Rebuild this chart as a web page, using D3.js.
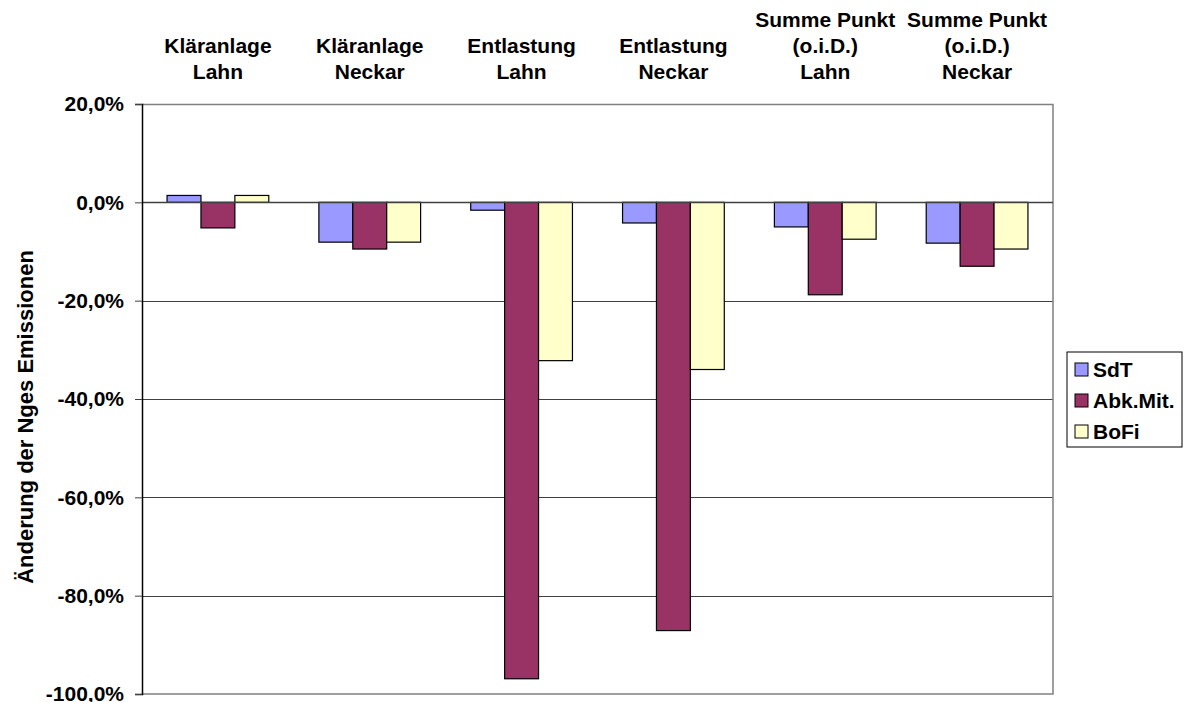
<!DOCTYPE html>
<html>
<head>
<meta charset="utf-8">
<script src="https://cdn.jsdelivr.net/npm/d3@7"></script>
<style>
  body { margin: 0; background: #fff; }
  text { font-family: "Liberation Sans", Arial, sans-serif; font-weight: bold; }
</style>
</head>
<body>
<div id="chart"></div>
<script>
// categories (multi-line labels) and series
const categories = [
  ["Kläranlage", "Lahn"],
  ["Kläranlage", "Neckar"],
  ["Entlastung", "Lahn"],
  ["Entlastung", "Neckar"],
  ["Summe Punkt", "(o.i.D.)", "Lahn"],
  ["Summe Punkt", "(o.i.D.)", "Neckar"]
];
const seriesNames = ["SdT", "Abk.Mit.", "BoFi"];
const seriesColors = ["#9999FF", "#993366", "#FFFFCC"];
const sdtValues = [1.4, -8.1, -1.6, -4.2, -5.0, -8.3];
const abkValues = [-5.2, -9.5, -96.9, -87.1, -18.8, -13.0];
const bofiValues = [1.4, -8.1, -32.2, -34.0, -7.5, -9.5];
const yTicks = [20, 0, -20, -40, -60, -80, -100];

const values = [sdtValues, abkValues, bofiValues];
const data = categories.map((c, i) => ({
  key: i,
  label: c,
  vals: seriesNames.map((s, j) => ({ series: s, idx: j, value: values[j][i] }))
}));

const width = 1184, height = 702;
const margin = { left: 142, right: 131, top: 104, bottom: 8 };
const innerW = width - margin.left - margin.right;
const innerH = height - margin.top - margin.bottom;
const fontSize = "21px";

const svg = d3.select("#chart").append("svg")
  .attr("width", width).attr("height", height);

const ChartArea = svg.append("g")
  .attr("transform", `translate(${margin.left},${margin.top})`);

const x0 = d3.scaleBand().domain(data.map(d => d.key)).range([0, innerW])
  .paddingInner(0.33).paddingOuter(0.165);
const x1 = d3.scaleBand().domain(d3.range(seriesNames.length)).range([0, x0.bandwidth()]);
const y = d3.scaleLinear().domain([-100, 20]).range([innerH, 0]);

// gridlines
ChartArea.selectAll(".grid")
  .data(yTicks.filter(t => t !== 20 && t !== -100))
  .join("line")
  .attr("class", "grid")
  .attr("x1", 0).attr("x2", innerW)
  .attr("y1", d => Math.round(y(d)) + 0.5).attr("y2", d => Math.round(y(d)) + 0.5)
  .attr("stroke", "#404040").attr("stroke-width", 1);

// plot border (top, right, bottom)
ChartArea.append("path")
  .attr("d", `M0,${Math.round(y(20)) + 0.5}H${innerW}V${innerH}H0`)
  .attr("fill", "none").attr("stroke", "#808080").attr("stroke-width", 1.5);

// bars
const groups = ChartArea.selectAll(".grp").data(data).join("g")
  .attr("class", "grp")
  .attr("transform", d => `translate(${x0(d.key)},0)`);

groups.selectAll("rect").data(d => d.vals).join("rect")
  .attr("x", d => x1(d.idx))
  .attr("y", d => y(Math.max(0, d.value)))
  .attr("width", x1.bandwidth())
  .attr("height", d => Math.abs(y(d.value) - y(0)))
  .attr("fill", d => seriesColors[d.idx])
  .attr("stroke", "black").attr("stroke-width", 1.2);

// zero line on top
ChartArea.append("line")
  .attr("x1", 0).attr("x2", innerW)
  .attr("y1", Math.round(y(0)) + 0.5).attr("y2", Math.round(y(0)) + 0.5)
  .attr("stroke", "#404040").attr("stroke-width", 1.5);

// y axis (plain hyphen minus, comma decimal)
const AxisYLeft = ChartArea.append("g")
  .call(d3.axisLeft(y).tickValues(yTicks).tickSize(7).tickPadding(11)
    .tickFormat(d => (d < 0 ? "-" : "") + Math.abs(d).toFixed(1).replace(".", ",") + "%"));
AxisYLeft.select(".domain").attr("stroke", "black").attr("stroke-width", 1.5);
AxisYLeft.selectAll(".tick line").attr("stroke", "#404040");
AxisYLeft.selectAll("text").style("font-size", fontSize).attr("fill", "black");

// category labels at top (bottom aligned)
const lineH = 26;
ChartArea.selectAll(".cat").data(data).join("text")
  .attr("class", "cat")
  .attr("text-anchor", "middle")
  .style("font-size", fontSize)
  .each(function (d) {
    const t = d3.select(this);
    const n = d.label.length;
    d.label.forEach((line, k) => {
      t.append("tspan")
        .attr("x", x0(d.key) + x0.bandwidth() / 2)
        .attr("y", -25 - (n - 1 - k) * lineH)
        .text(line);
    });
  });

// y axis title
svg.append("text")
  .attr("transform", "translate(33,417) rotate(-90)")
  .attr("text-anchor", "middle")
  .style("font-size", "22px")
  .text("Änderung der Nges Emissionen");

// legend
const legend = svg.append("g").attr("transform", "translate(1067,352)");
legend.append("rect")
  .attr("width", 115).attr("height", 95)
  .attr("fill", "white").attr("stroke", "black").attr("stroke-width", 1);
const items = legend.selectAll(".item").data(seriesNames).join("g")
  .attr("class", "item")
  .attr("transform", (d, i) => `translate(8,${18 + i * 31})`);
items.append("rect")
  .attr("x", 0).attr("y", -7).attr("width", 13).attr("height", 13)
  .attr("fill", (d, i) => seriesColors[i])
  .attr("stroke", "black").attr("stroke-width", 1);
items.append("text")
  .attr("x", 18).attr("y", 7)
  .style("font-size", fontSize)
  .text(d => d);
</script>
</body>
</html>
